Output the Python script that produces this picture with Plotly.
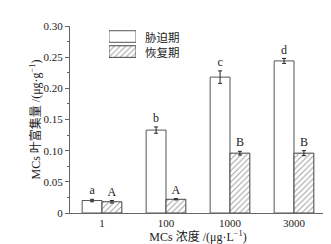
import plotly.graph_objects as go

categories = ["1", "100", "1000", "3000"]
stress = [0.020, 0.133, 0.218, 0.244]
stress_err = [0.002, 0.005, 0.010, 0.004]
recovery = [0.018, 0.022, 0.096, 0.096]
recovery_err = [0.002, 0.001, 0.003, 0.004]
stress_letters = ["a", "b", "c", "d"]
recovery_letters = ["A", "A", "B", "B"]
series_names = ["胁迫期", "恢复期"]
yticks = [0, 0.05, 0.10, 0.15, 0.20, 0.25, 0.30]
yticklabels = ["0", "0.05", "0.10", "0.15", "0.20", "0.25", "0.30"]

serif = "Liberation Serif, Noto Sans CJK SC, serif"
cjk = "Noto Sans CJK SC, sans-serif"
off = 0.155
w = 0.31
xs = [i - off for i in range(len(categories))]
xr = [i + off for i in range(len(categories))]
hatch = dict(shape="/", fgcolor="#444444", bgcolor="white", size=4, solidity=0.25)

fig = go.Figure()
fig.add_trace(go.Bar(
    x=xs, y=stress, width=w, name=series_names[0], showlegend=False,
    marker=dict(color="white", line=dict(color="#555555", width=1)),
    error_y=dict(type="data", array=stress_err, color="#222222", thickness=1, width=2),
))
fig.add_trace(go.Bar(
    x=xr, y=recovery, width=w, name=series_names[1], showlegend=False,
    marker=dict(color="white", line=dict(color="#444444", width=1), pattern=hatch),
    error_y=dict(type="data", array=recovery_err, color="#222222", thickness=1, width=2),
))
fig.add_trace(go.Scatter(
    x=xs, y=[v + e + 0.003 for v, e in zip(stress, stress_err)], mode="text",
    text=stress_letters, textposition="top center", showlegend=False,
    textfont=dict(family=serif, size=12, color="#222222"),
))
fig.add_trace(go.Scatter(
    x=xr, y=[v + e + 0.003 for v, e in zip(recovery, recovery_err)], mode="text",
    text=recovery_letters, textposition="top center", showlegend=False,
    textfont=dict(family=serif, size=12, color="#222222"),
))

# legend swatches drawn on a small overlay axis
fig.add_trace(go.Bar(
    x=[1], y=[1], orientation="h", width=0.77, xaxis="x2", yaxis="y2", showlegend=False,
    hoverinfo="skip",
    marker=dict(color="white", line=dict(color="#555555", width=1)),
))
fig.add_trace(go.Bar(
    x=[1], y=[0], orientation="h", width=0.77, xaxis="x2", yaxis="y2", showlegend=False,
    hoverinfo="skip",
    marker=dict(color="white", line=dict(color="#444444", width=1), pattern=hatch),
))
for i, name in enumerate(series_names):
    fig.add_annotation(
        xref="x2 domain", yref="y2", x=1.25, y=1 - i, text=name, showarrow=False,
        xanchor="left", yanchor="middle", font=dict(family=cjk, size=11.5, color="#222222"),
    )

fig.update_layout(
    width=331, height=244,
    margin=dict(l=62, r=13, t=14, b=38),
    paper_bgcolor="white", plot_bgcolor="rgba(0,0,0,0)",
    barmode="overlay",
    font=dict(family=serif, size=11, color="#222222"),
    showlegend=False,
    xaxis=dict(
        range=[-0.5, 3.5], tickvals=list(range(len(categories))), ticktext=categories,
        showline=True, linecolor="#666666", linewidth=1.3, ticks="", showgrid=False,
        zeroline=False,
        title=dict(text="MCs 浓度 /(μg·L<sup>−1</sup>)", standoff=2, font=dict(size=12)),
    ),
    yaxis=dict(
        range=[0, 0.30], tickvals=yticks, ticktext=yticklabels,
        showline=True, linecolor="#666666", linewidth=1.3, ticks="outside", ticklen=4,
        tickcolor="#666666", showgrid=False, zeroline=False,
        minor=dict(tickvals=[0.025, 0.075, 0.125, 0.175, 0.225, 0.275], ticks="outside",
                   ticklen=2, tickcolor="#666666"),
        title=dict(text="MCs 叶富集量 /(μg·g<sup>−1</sup>)", standoff=0, font=dict(size=12)),
    ),
    xaxis2=dict(domain=[0.152, 0.258], anchor="y2", range=[0, 1], visible=False, fixedrange=True),
    yaxis2=dict(domain=[0.823, 0.984], anchor="x2", range=[-0.5, 1.5], visible=False, fixedrange=True),
)
fig.write_html("out.html")
